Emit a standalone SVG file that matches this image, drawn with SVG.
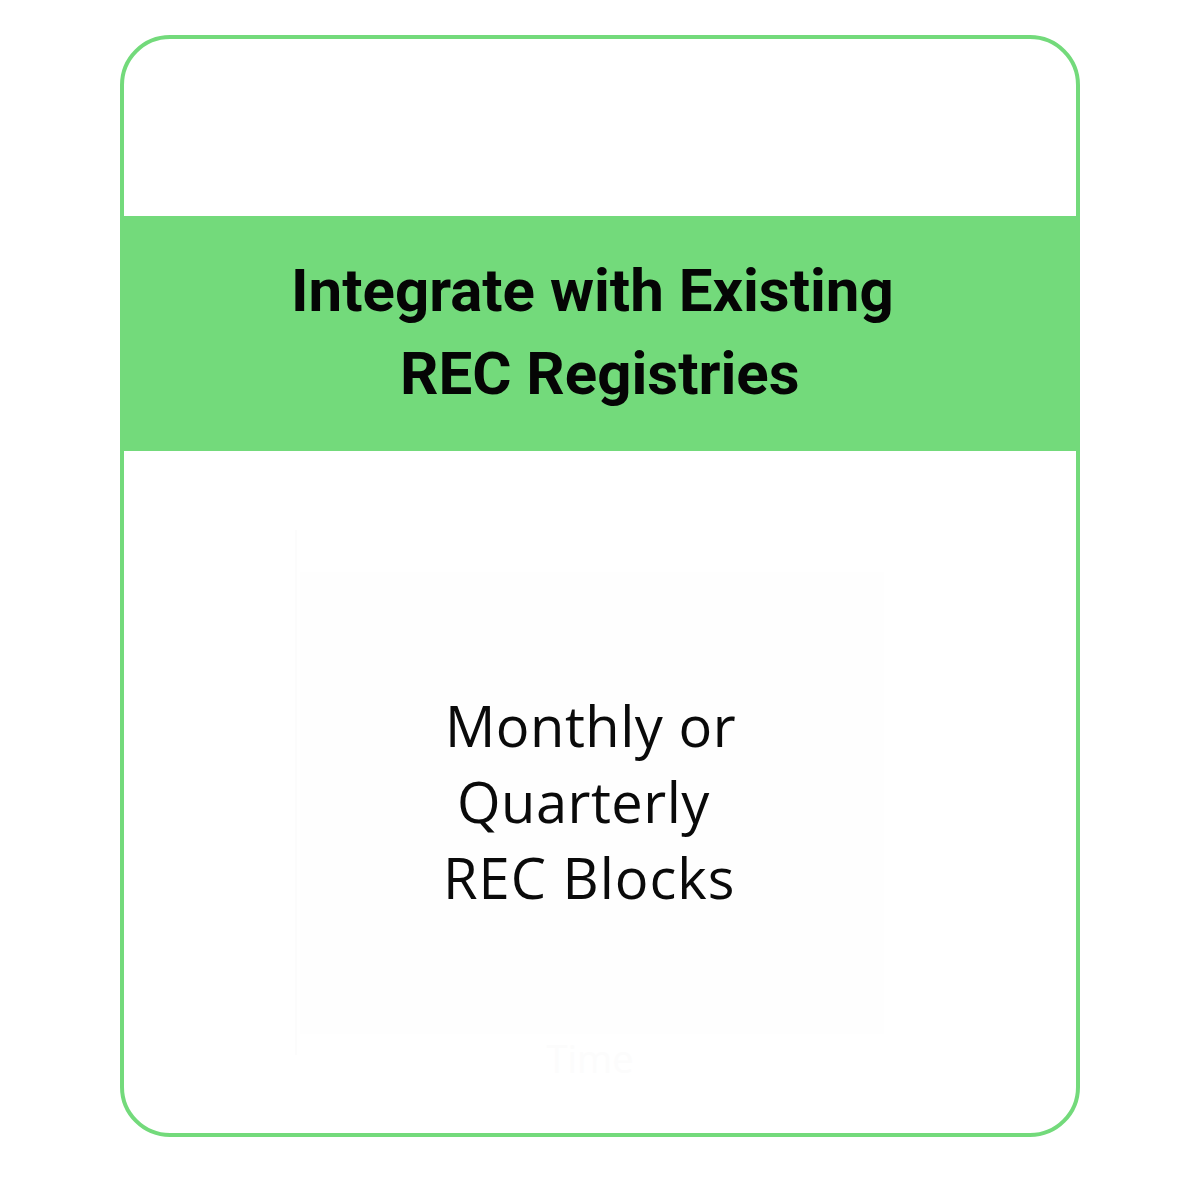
<svg xmlns="http://www.w3.org/2000/svg" width="1200" height="1200" viewBox="0 0 1200 1200">
<style>
.h{font-family:Roboto,"Liberation Sans",sans-serif;font-weight:700;font-size:60px;fill:#050505}
.b{font-family:"Open Sans","Noto Sans",sans-serif;font-size:56px;letter-spacing:.5px;fill:#0a0a0a}
.ghost{fill:none;stroke:#fcfcfc;stroke-width:2}
</style>
<rect width="1200" height="1200" fill="#fff"/>
<g id="card">
<rect x="122" y="37" width="956" height="1098" rx="48" fill="#fff" stroke="#73da7b" stroke-width="4"/>
</g>
<g id="banner">
<rect x="120" y="216" width="960" height="235" fill="#73da7b"/>
<text class="h" x="291" y="311">Integrate with Existing</text>
<text class="h" x="400" y="394">REC Registries</text>
</g>
<g id="plot">
<path class="ghost" d="M296 530V1055"/>
<rect x="300" y="572" width="584" height="462" fill="#fefefe"/>
<text x="590" y="1073" text-anchor="middle" font-family="Open Sans, sans-serif" font-size="38" fill="#fcfcfc">Time</text>
</g>
<g id="body">
<text class="b" x="445" y="747">Monthly or</text>
<text class="b" x="457" y="823">Quarterly</text>
<text class="b" x="443" y="899" style="letter-spacing:1px">REC Blocks</text>
</g>
</svg>
